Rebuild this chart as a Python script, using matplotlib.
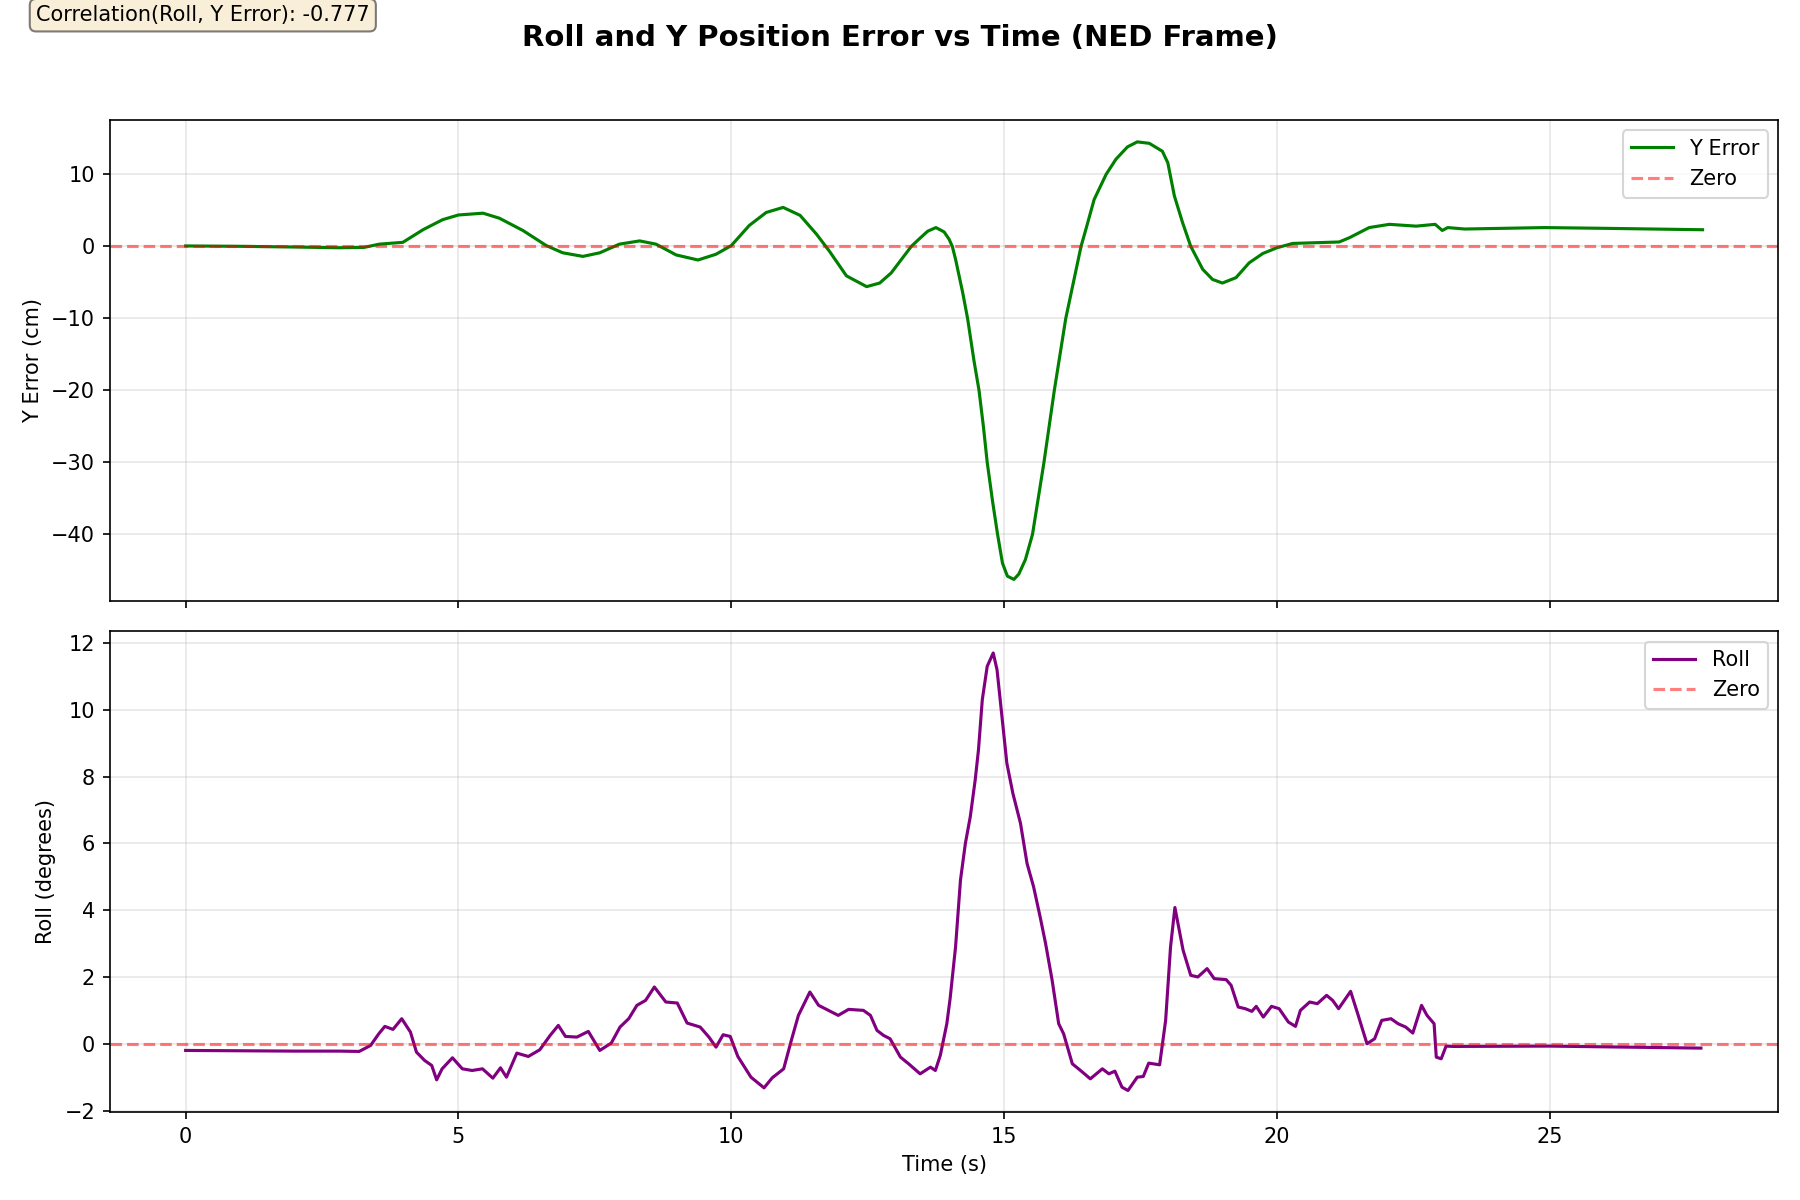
#%% libs
import numpy as np
import matplotlib
matplotlib.use('Agg')
import matplotlib.pyplot as plt

#%% data
# Y position error [cm]
t_err = [0.0, 1.0, 2.0, 2.8, 3.27, 3.55, 3.98, 4.35, 4.71, 5.0, 5.45, 5.75, 6.18,
         6.61, 6.91, 7.28, 7.59, 7.95, 8.32, 8.62, 8.99, 9.39, 9.72, 10.0, 10.33,
         10.64, 10.95, 11.26, 11.56, 11.8, 12.11, 12.48, 12.72, 12.93, 13.15, 13.3,
         13.44, 13.6, 13.75, 13.9, 13.99, 14.05, 14.11, 14.24, 14.33, 14.45, 14.54,
         14.62, 14.69, 14.79, 14.88, 14.97, 15.06, 15.18, 15.27, 15.39, 15.52, 15.73,
         15.92, 16.13, 16.41, 16.5, 16.65, 16.87, 17.05, 17.26, 17.44, 17.66, 17.9,
         18.0, 18.12, 18.27, 18.42, 18.64, 18.82, 19.0, 19.25, 19.49, 19.74, 20.0,
         20.29, 21.14, 21.33, 21.69, 22.06, 22.55, 22.9, 23.03, 23.13, 23.44, 24.9,
         25.97, 27.8]
y_err = [0.05, 0.0, -0.1, -0.2, -0.15, 0.3, 0.55, 2.3, 3.7, 4.35, 4.6, 3.9, 2.2,
         0.1, -0.9, -1.4, -0.9, 0.3, 0.75, 0.3, -1.2, -1.9, -1.1, 0.1, 2.9,
         4.7, 5.4, 4.3, 1.7, -0.7, -4.1, -5.6, -5.1, -3.7, -1.5, 0.0,
         1.0, 2.1, 2.6, 2.0, 1.0, 0.0, -1.8, -6.4, -10.0, -16.0, -20.0,
         -25.0, -30.0, -35.5, -40.0, -44.0, -45.8, -46.25, -45.5, -43.5, -40.0, -30.0,
         -20.0, -10.0, 0.0, 2.4, 6.5, 10.0, 12.1, 13.8, 14.5, 14.3, 13.2,
         11.6, 7.0, 3.3, 0.0, -3.2, -4.6, -5.1, -4.35, -2.3, -1.0, -0.2,
         0.4, 0.6, 1.2, 2.6, 3.05, 2.8, 3.05, 2.2, 2.6, 2.4, 2.6,
         2.5, 2.3]

# Roll [deg]
t_roll = [0.0, 1.0, 2.0, 2.81, 3.18, 3.39, 3.54, 3.65, 3.8, 3.96, 4.12, 4.23, 4.38,
          4.51, 4.6, 4.7, 4.89, 5.07, 5.25, 5.44, 5.63, 5.77, 5.88, 6.07, 6.28,
          6.49, 6.68, 6.83, 6.96, 7.17, 7.38, 7.59, 7.8, 7.96, 8.12, 8.27, 8.43,
          8.59, 8.8, 9.01, 9.19, 9.43, 9.59, 9.72, 9.85, 9.98, 10.12, 10.36, 10.6,
          10.75, 10.96, 11.1, 11.23, 11.44, 11.6, 11.78, 11.96, 12.15, 12.42, 12.55,
          12.67, 12.79, 12.91, 13.1, 13.25, 13.46, 13.65, 13.74, 13.83, 13.95, 14.01,
          14.11, 14.2, 14.29, 14.38, 14.47, 14.53, 14.6, 14.69, 14.8, 14.87, 14.96,
          15.05, 15.16, 15.3, 15.42, 15.54, 15.66, 15.76, 15.88, 16.0, 16.09, 16.25,
          16.4, 16.58, 16.8, 16.92, 17.03, 17.16, 17.27, 17.44, 17.55, 17.65, 17.85,
          17.96, 18.05, 18.13, 18.28, 18.42, 18.55, 18.72, 18.85, 19.07, 19.16, 19.29,
          19.42, 19.54, 19.62, 19.75, 19.9, 20.04, 20.21, 20.34, 20.43, 20.6, 20.74,
          20.91, 21.02, 21.13, 21.35, 21.48, 21.65, 21.79, 21.92, 22.09, 22.22, 22.36,
          22.49, 22.65, 22.75, 22.88, 22.92, 23.01, 23.1, 23.23, 25.0, 27.77]
roll = [-0.2, -0.21, -0.22, -0.22, -0.23, -0.05, 0.3, 0.52, 0.43, 0.75, 0.35, -0.25, -0.5,
        -0.65, -1.08, -0.75, -0.42, -0.75, -0.8, -0.75, -1.03, -0.72, -1.0, -0.28, -0.38,
        -0.18, 0.25, 0.55, 0.22, 0.2, 0.37, -0.2, 0.02, 0.5, 0.75, 1.15, 1.3,
        1.7, 1.25, 1.22, 0.62, 0.5, 0.2, -0.1, 0.27, 0.22, -0.38, -1.0, -1.32,
        -1.02, -0.75, 0.1, 0.85, 1.55, 1.15, 1.0, 0.85, 1.03, 1.0, 0.85,
        0.4, 0.25, 0.15, -0.4, -0.6, -0.9, -0.7, -0.8, -0.35, 0.6, 1.35,
        2.9, 4.9, 6.0, 6.8, 7.9, 8.8, 10.3, 11.3, 11.7, 11.2, 9.8,
        8.4, 7.5, 6.6, 5.4, 4.7, 3.8, 3.0, 1.9, 0.6, 0.3, -0.6,
        -0.8, -1.05, -0.75, -0.9, -0.82, -1.3, -1.4, -1.0, -0.98, -0.58, -0.63,
        0.7, 2.9, 4.08, 2.8, 2.05, 2.0, 2.25, 1.95, 1.92, 1.75, 1.1,
        1.05, 0.97, 1.12, 0.8, 1.12, 1.05, 0.65, 0.52, 1.0, 1.25, 1.2,
        1.45, 1.3, 1.05, 1.57, 0.9, 0.0, 0.15, 0.7, 0.75, 0.6, 0.5,
        0.32, 1.15, 0.85, 0.6, -0.4, -0.45, -0.07, -0.08, -0.07, -0.13]

corr = -0.777

#%% plot
fig, (ax1, ax2) = plt.subplots(2, 1, figsize=(12, 8), dpi=150, sharex=True)
fig.suptitle('Roll and Y Position Error vs Time (NED Frame)', fontsize=14, fontweight='bold',
             y=0.98)

ax1.plot(t_err, y_err, color='green', linewidth=1.5, label='Y Error')
ax1.axhline(0, color='r', linestyle='--', alpha=0.5, linewidth=1.5, label='Zero')
ax1.set_ylabel('Y Error (cm)')
ax1.grid(True, alpha=0.3)
ax1.legend(loc='upper right')

ax2.plot(t_roll, roll, color='purple', linewidth=1.5, label='Roll')
ax2.axhline(0, color='r', linestyle='--', alpha=0.5, linewidth=1.5, label='Zero')
ax2.set_ylabel('Roll (degrees)')
ax2.set_xlabel('Time (s)')
ax2.grid(True, alpha=0.3)
ax2.legend(loc='upper right')

fig.text(0.02, 0.979, f'Correlation(Roll, Y Error): {corr:.3f}', fontsize=10,
         va='bottom', ha='left',
         bbox=dict(boxstyle='round', facecolor='wheat', alpha=0.5))

fig.subplots_adjust(left=0.061, right=0.988, top=0.9, bottom=0.073, hspace=0.062)
plt.savefig('out.png', dpi=150)
